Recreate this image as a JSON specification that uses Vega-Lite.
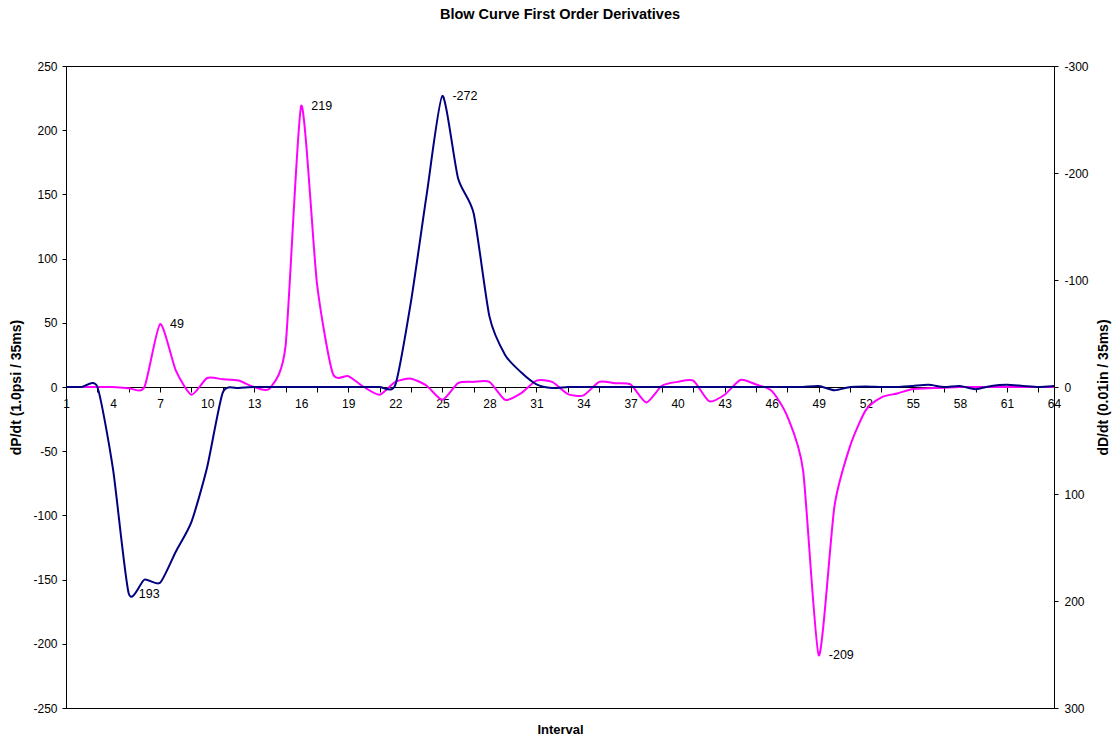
{
  "$schema": "https://vega.github.io/schema/vega-lite/v6.json",
  "width": 988,
  "height": 642,
  "autosize": {"type": "none"},
  "padding": {"left": 66, "top": 66, "right": 60, "bottom": 32},
  "background": "white",
  "config": {
    "view": {"stroke": "#000", "strokeWidth": 1},
    "font": "Liberation Sans",
    "axis": {
      "labelFont": "Liberation Sans",
      "titleFont": "Liberation Sans",
      "labelFontSize": 12,
      "titleFontSize": 14,
      "titleFontWeight": "bold",
      "labelColor": "#000",
      "titleColor": "#000",
      "domainColor": "#000",
      "tickColor": "#000",
      "grid": false,
      "tickSize": 4
    }
  },
  "title": {
    "text": "Blow Curve First Order Derivatives",
    "font": "Liberation Sans",
    "fontSize": 14.5,
    "fontWeight": "bold",
    "color": "#000",
    "anchor": "middle",
    "frame": "group",
    "baseline": "bottom",
    "offset": 24
  },
  "data": {
    "values": [
      {"i": 1, "s": "P", "v": 0}, {"i": 2, "s": "P", "v": 0}, {"i": 3, "s": "P", "v": 0}, {"i": 4, "s": "P", "v": 0},
      {"i": 5, "s": "P", "v": -1}, {"i": 6, "s": "P", "v": 0}, {"i": 7, "s": "P", "v": 49, "label": "49"}, {"i": 8, "s": "P", "v": 13},
      {"i": 9, "s": "P", "v": -6}, {"i": 10, "s": "P", "v": 7}, {"i": 11, "s": "P", "v": 6}, {"i": 12, "s": "P", "v": 5},
      {"i": 13, "s": "P", "v": 0}, {"i": 14, "s": "P", "v": -1}, {"i": 15, "s": "P", "v": 32}, {"i": 16, "s": "P", "v": 219, "label": "219"},
      {"i": 17, "s": "P", "v": 81}, {"i": 18, "s": "P", "v": 11}, {"i": 19, "s": "P", "v": 8.5}, {"i": 20, "s": "P", "v": 0},
      {"i": 21, "s": "P", "v": -6}, {"i": 22, "s": "P", "v": 4}, {"i": 23, "s": "P", "v": 6.5}, {"i": 24, "s": "P", "v": 1},
      {"i": 25, "s": "P", "v": -10}, {"i": 26, "s": "P", "v": 3}, {"i": 27, "s": "P", "v": 4}, {"i": 28, "s": "P", "v": 4},
      {"i": 29, "s": "P", "v": -10}, {"i": 30, "s": "P", "v": -5}, {"i": 31, "s": "P", "v": 5}, {"i": 32, "s": "P", "v": 4},
      {"i": 33, "s": "P", "v": -5.5}, {"i": 34, "s": "P", "v": -6.5}, {"i": 35, "s": "P", "v": 4}, {"i": 36, "s": "P", "v": 3},
      {"i": 37, "s": "P", "v": 2}, {"i": 38, "s": "P", "v": -12}, {"i": 39, "s": "P", "v": 1}, {"i": 40, "s": "P", "v": 4},
      {"i": 41, "s": "P", "v": 5}, {"i": 42, "s": "P", "v": -11}, {"i": 43, "s": "P", "v": -6}, {"i": 44, "s": "P", "v": 5.5},
      {"i": 45, "s": "P", "v": 2}, {"i": 46, "s": "P", "v": -3}, {"i": 47, "s": "P", "v": -23}, {"i": 48, "s": "P", "v": -65},
      {"i": 49, "s": "P", "v": -209, "label": "-209"}, {"i": 50, "s": "P", "v": -93}, {"i": 51, "s": "P", "v": -46}, {"i": 52, "s": "P", "v": -18},
      {"i": 53, "s": "P", "v": -8}, {"i": 54, "s": "P", "v": -5}, {"i": 55, "s": "P", "v": -1.5}, {"i": 56, "s": "P", "v": -1},
      {"i": 57, "s": "P", "v": -0.5}, {"i": 58, "s": "P", "v": 0}, {"i": 59, "s": "P", "v": 0}, {"i": 60, "s": "P", "v": 0},
      {"i": 61, "s": "P", "v": 0}, {"i": 62, "s": "P", "v": 0}, {"i": 63, "s": "P", "v": 0}, {"i": 64, "s": "P", "v": 0},

      {"i": 1, "s": "D", "v": 0}, {"i": 2, "s": "D", "v": 0}, {"i": 3, "s": "D", "v": 0}, {"i": 4, "s": "D", "v": 77},
      {"i": 5, "s": "D", "v": 193, "label": "193"}, {"i": 6, "s": "D", "v": 180}, {"i": 7, "s": "D", "v": 183}, {"i": 8, "s": "D", "v": 154},
      {"i": 9, "s": "D", "v": 126}, {"i": 10, "s": "D", "v": 75}, {"i": 11, "s": "D", "v": 5}, {"i": 12, "s": "D", "v": 1},
      {"i": 13, "s": "D", "v": 0}, {"i": 14, "s": "D", "v": 0}, {"i": 15, "s": "D", "v": 0}, {"i": 16, "s": "D", "v": 0},
      {"i": 17, "s": "D", "v": 0}, {"i": 18, "s": "D", "v": 0}, {"i": 19, "s": "D", "v": 0}, {"i": 20, "s": "D", "v": 0},
      {"i": 21, "s": "D", "v": 0}, {"i": 22, "s": "D", "v": -2}, {"i": 23, "s": "D", "v": -80}, {"i": 24, "s": "D", "v": -180},
      {"i": 25, "s": "D", "v": -272, "label": "-272"}, {"i": 26, "s": "D", "v": -195}, {"i": 27, "s": "D", "v": -162}, {"i": 28, "s": "D", "v": -66},
      {"i": 29, "s": "D", "v": -30}, {"i": 30, "s": "D", "v": -14}, {"i": 31, "s": "D", "v": -2.5}, {"i": 32, "s": "D", "v": 1},
      {"i": 33, "s": "D", "v": 0}, {"i": 34, "s": "D", "v": 0}, {"i": 35, "s": "D", "v": 0}, {"i": 36, "s": "D", "v": 0},
      {"i": 37, "s": "D", "v": 0}, {"i": 38, "s": "D", "v": 0}, {"i": 39, "s": "D", "v": 0}, {"i": 40, "s": "D", "v": 0},
      {"i": 41, "s": "D", "v": 0}, {"i": 42, "s": "D", "v": 0}, {"i": 43, "s": "D", "v": 0}, {"i": 44, "s": "D", "v": 0},
      {"i": 45, "s": "D", "v": 0}, {"i": 46, "s": "D", "v": 0}, {"i": 47, "s": "D", "v": 0}, {"i": 48, "s": "D", "v": 0},
      {"i": 49, "s": "D", "v": -1}, {"i": 50, "s": "D", "v": 3}, {"i": 51, "s": "D", "v": 0}, {"i": 52, "s": "D", "v": -0.5},
      {"i": 53, "s": "D", "v": 0}, {"i": 54, "s": "D", "v": 0}, {"i": 55, "s": "D", "v": -1}, {"i": 56, "s": "D", "v": -2},
      {"i": 57, "s": "D", "v": 0}, {"i": 58, "s": "D", "v": -1}, {"i": 59, "s": "D", "v": 2}, {"i": 60, "s": "D", "v": -1},
      {"i": 61, "s": "D", "v": -2}, {"i": 62, "s": "D", "v": -1}, {"i": 63, "s": "D", "v": 0}, {"i": 64, "s": "D", "v": -1}
    ]
  },
  "encoding": {
    "x": {
      "field": "i",
      "type": "quantitative",
      "scale": {"domain": [1, 64], "nice": false, "zero": false},
      "axis": {
        "orient": "bottom",
        "offset": -321,
        "values": [1,2,3,4,5,6,7,8,9,10,11,12,13,14,15,16,17,18,19,20,21,22,23,24,25,26,27,28,29,30,31,32,33,34,35,36,37,38,39,40,41,42,43,44,45,46,47,48,49,50,51,52,53,54,55,56,57,58,59,60,61,62,63,64],
        "labelExpr": "(datum.value - 1) % 3 === 0 ? ('' + datum.value) : ''",
        "labelOverlap": false,
        "labelFlush": false,
        "labelPadding": 6,
        "tickSize": 5,
        "tickOpacity": {"condition": {"test": "datum.value % 2 === 0", "value": 0}, "value": 1},
        "title": "Interval",
        "titleFontSize": 13,
        "titleX": 494,
        "titleY": 342,
        "titleAlign": "center",
        "titleBaseline": "middle"
      }
    }
  },
  "layer": [
    {
      "transform": [{"filter": "datum.s === 'P'"}],
      "encoding": {
        "y": {
          "field": "v",
          "type": "quantitative",
          "scale": {"domain": [-250, 250], "nice": false, "zero": false},
          "axis": {
            "orient": "left",
            "values": [-250, -200, -150, -100, -50, 0, 50, 100, 150, 200, 250],
            "labelExpr": "'' + datum.value",
            "labelPadding": 5,
            "title": "dP/dt (1.0psi / 35ms)",
            "titleAngle": 270,
            "titleX": -50,
            "titleY": 321,
            "titleAlign": "center",
            "titleBaseline": "middle"
          }
        }
      },
      "layer": [
        {"mark": {"type": "line", "color": "#FF00FF", "strokeWidth": 2, "interpolate": "cardinal", "tension": 0.35}},
        {
          "transform": [{"filter": "datum.label != null"}],
          "mark": {"type": "text", "align": "left", "baseline": "middle", "dx": 10, "fontSize": 12.5, "font": "Liberation Sans", "color": "#000"},
          "encoding": {"text": {"field": "label"}}
        }
      ]
    },
    {
      "transform": [{"filter": "datum.s === 'D'"}],
      "encoding": {
        "y": {
          "field": "v",
          "type": "quantitative",
          "scale": {"domain": [-300, 300], "reverse": true, "nice": false, "zero": false},
          "axis": {
            "orient": "right",
            "values": [-300, -200, -100, 0, 100, 200, 300],
            "labelExpr": "'' + datum.value",
            "labelPadding": 6,
            "title": "dD/dt (0.01in / 35ms)",
            "titleAngle": 270,
            "titleX": 49,
            "titleY": 321,
            "titleAlign": "center",
            "titleBaseline": "middle"
          }
        }
      },
      "layer": [
        {"mark": {"type": "line", "color": "#000080", "strokeWidth": 2, "interpolate": "cardinal", "tension": 0.35}},
        {
          "transform": [{"filter": "datum.label != null"}],
          "mark": {"type": "text", "align": "left", "baseline": "middle", "dx": 10, "fontSize": 12.5, "font": "Liberation Sans", "color": "#000"},
          "encoding": {"text": {"field": "label"}}
        }
      ]
    }
  ],
  "resolve": {"scale": {"y": "independent"}}
}
